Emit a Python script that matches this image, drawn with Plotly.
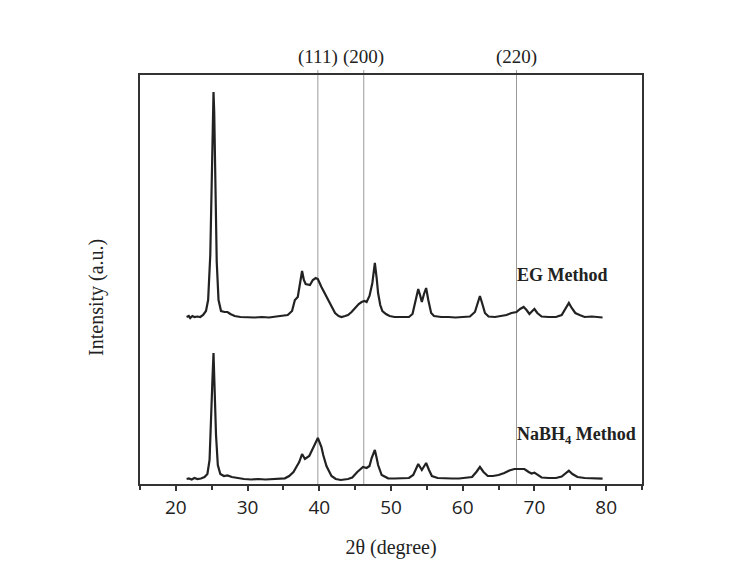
import plotly.graph_objects as go

# ---- data (2θ in degree, intensity in a.u. relative to each pattern's baseline) ----
eg_2theta = [21.5, 21.8, 22.0, 22.3, 22.6, 23.0, 23.4, 23.8, 24.2, 24.5, 24.8, 25.0, 25.15, 25.25, 25.35,
             25.5, 25.7, 25.95, 26.3, 26.8, 27.2, 27.6, 28.2, 29, 30, 31, 32, 33, 34, 35, 35.6, 36.2, 36.6,
             37.0, 37.3, 37.6, 37.85, 38.1, 38.7, 39.1, 39.5, 39.8, 40.3, 40.8, 41.25, 41.7, 42.2, 42.7,
             43.1, 43.6, 44.0, 44.5, 45.0, 45.5, 45.9, 46.3, 46.6, 47.0, 47.4, 47.75, 48.0, 48.2, 48.5,
             48.8, 49.3, 49.8, 50.5, 51.5, 52.5, 53.0, 53.4, 53.8, 54.05, 54.3, 54.6, 54.9, 55.2, 55.6,
             56.0, 57, 58, 59, 60, 61, 61.7, 62.1, 62.4, 62.7, 63.1, 63.6, 64.5, 65.3, 66.1, 66.8, 67.5,
             68.0, 68.5, 68.9, 69.3, 69.7, 70.0, 70.4, 71.0, 72, 73, 73.8, 74.4, 74.8, 75.2, 75.7, 76.3,
             77, 78, 79, 79.5]
eg_intensity = [0, 1, -1, 1, 0, 0.5, 0, 2, 6, 17, 62, 142, 207, 225, 205,
                132, 55, 17, 6, 5, 5, 3, 1, 0, -0.5, -0.5, 0, -0.5, 0.5, 1, 2, 6, 17,
                20, 32, 46, 37, 33, 32, 37, 39, 38, 30, 23, 17, 10, 4, 1,
                0, 1, 2, 5, 9, 13, 15, 16, 15, 21, 34, 54, 39, 24, 12,
                6, 3, 1, 0, 0, 0, 3, 15, 28, 22, 15, 23, 29, 17, 4,
                1, 0, 0, -0.5, 0, 0.5, 5, 15, 21, 14, 4, 0.5, 0, 1, 2, 4, 5,
                8, 10, 7, 3, 6, 8, 4, 0.5, 0, 0, 2, 10, 14, 9, 4, 2,
                0, 0.5, 0, -0.5]

nabh4_2theta = [21.5, 21.8, 22.2, 22.6, 23.0, 23.5, 24.0, 24.4, 24.7, 24.95, 25.1, 25.25, 25.4, 25.6,
                25.85, 26.2, 26.7, 27.2, 27.8, 28.5, 29.5, 30.5, 31.5, 32.5, 33.5, 34.5, 35.2, 35.8,
                36.4, 36.8, 37.2, 37.6, 38.0, 38.6, 39.0, 39.3, 39.8, 40.3, 40.55, 41.0, 41.7, 42.3,
                43.0, 44.0, 44.6, 45.3, 46.1, 46.6, 47.0, 47.3, 47.75, 48.0, 48.2, 48.7, 49.6, 50.5,
                51.5, 52.5, 53.1, 53.5, 53.8, 54.3, 54.9, 55.3, 55.7, 56.5, 57.5, 58.5, 59.5, 60.5,
                61.3, 61.9, 62.4, 62.9, 63.5, 64.2, 65, 65.8, 66.5, 67.2, 68.0, 68.6, 69.2, 69.6, 70.0,
                70.5, 71.0, 72, 73, 73.8, 74.4, 74.8, 75.3, 76, 77, 78, 79, 79.5]
nabh4_intensity = [0, 0.5, -0.5, 1, 0, 0.5, 2, 5, 19, 59, 99, 126, 94, 44,
                   14, 5, 3, 3.5, 2, 1, 0, -0.5, 0, -0.5, 0, 0.5, 0.7, 3,
                   7, 12, 17, 25, 20, 23, 29, 34, 41, 32, 24, 13, 3, 0,
                   -1, 0, 1.5, 7, 12, 11, 13, 21, 29, 21, 14, 4, 0.7, 0.5,
                   0.5, 1, 4, 10, 15, 9, 16, 9, 3, 1, 0.5, 0.5, 0.5, 1,
                   2, 7, 12, 7, 3, 3, 4, 6, 8.5, 10, 10.3, 10, 7, 5.5, 6.3,
                   4, 1.5, 1, 1, 2.5, 6.5, 8.3, 5, 2, 1, 0.5, 0.5, 0.3]

eg_offset = 167
nabh4_offset = 5

ref_labels = ["(111)", "(200)", "(220)"]
ref_positions = [39.8, 46.2, 67.5]

x_ticks = [20, 30, 40, 50, 60, 70, 80]

serif = "Liberation Serif, Times New Roman, serif"
ink = "#222222"

fig = go.Figure()
fig.add_trace(go.Scatter(x=eg_2theta, y=[v + eg_offset for v in eg_intensity], mode="lines",
                         line=dict(color=ink, width=2.2), showlegend=False))
fig.add_trace(go.Scatter(x=nabh4_2theta, y=[v + nabh4_offset for v in nabh4_intensity], mode="lines",
                         line=dict(color=ink, width=2.2), showlegend=False))

for lab, pos in zip(ref_labels, ref_positions):
    fig.add_shape(type="line", xref="x", yref="paper", x0=pos, x1=pos, y0=0, y1=1.012,
                  line=dict(color="#9a9a9a", width=1), layer="below")
    fig.add_annotation(x=pos, y=1.045, xref="x", yref="paper", text=lab, showarrow=False,
                       font=dict(family=serif, size=19, color=ink), xanchor="center", yanchor="middle")

fig.add_annotation(x=67.3, y=eg_offset + 42, xref="x", yref="y", text="<b>EG Method</b>", showarrow=False,
                   font=dict(family=serif, size=18, color=ink), xanchor="left", yanchor="middle")
fig.add_annotation(x=67.3, y=nabh4_offset + 44, xref="x", yref="y", text="<b>NaBH<sub>4</sub> Method</b>",
                   showarrow=False, font=dict(family=serif, size=18, color=ink), xanchor="left", yanchor="middle")

fig.add_annotation(x=-0.088, y=0.457, xref="paper", yref="paper", text="Intensity (a.u.)", showarrow=False,
                   textangle=-90, font=dict(family=serif, size=20, color=ink), xanchor="center", yanchor="middle")

fig.update_layout(
    width=733, height=571,
    margin=dict(l=140, r=91, t=75, b=87),
    paper_bgcolor="white", plot_bgcolor="white",
    xaxis=dict(range=[15, 85], tickmode="array", tickvals=x_ticks,
               ticks="outside", ticklen=5, tickwidth=1.5, tickcolor="#333",
               minor=dict(ticks="outside", ticklen=4, tickwidth=1.5, tickcolor="#333", dtick=5, tick0=15),
               showline=True, linecolor="#333", linewidth=2, mirror=True, showgrid=False, zeroline=False,
               tickfont=dict(family="Open Sans, sans-serif", size=19, color=ink),
               title=dict(text="2θ (degree)", font=dict(family=serif, size=20, color=ink), standoff=21)),
    yaxis=dict(range=[0, 409], showticklabels=False, ticks="", showline=True, linecolor="#333",
               linewidth=2, mirror=True, showgrid=False, zeroline=False),
)

fig.write_html("out.html")
